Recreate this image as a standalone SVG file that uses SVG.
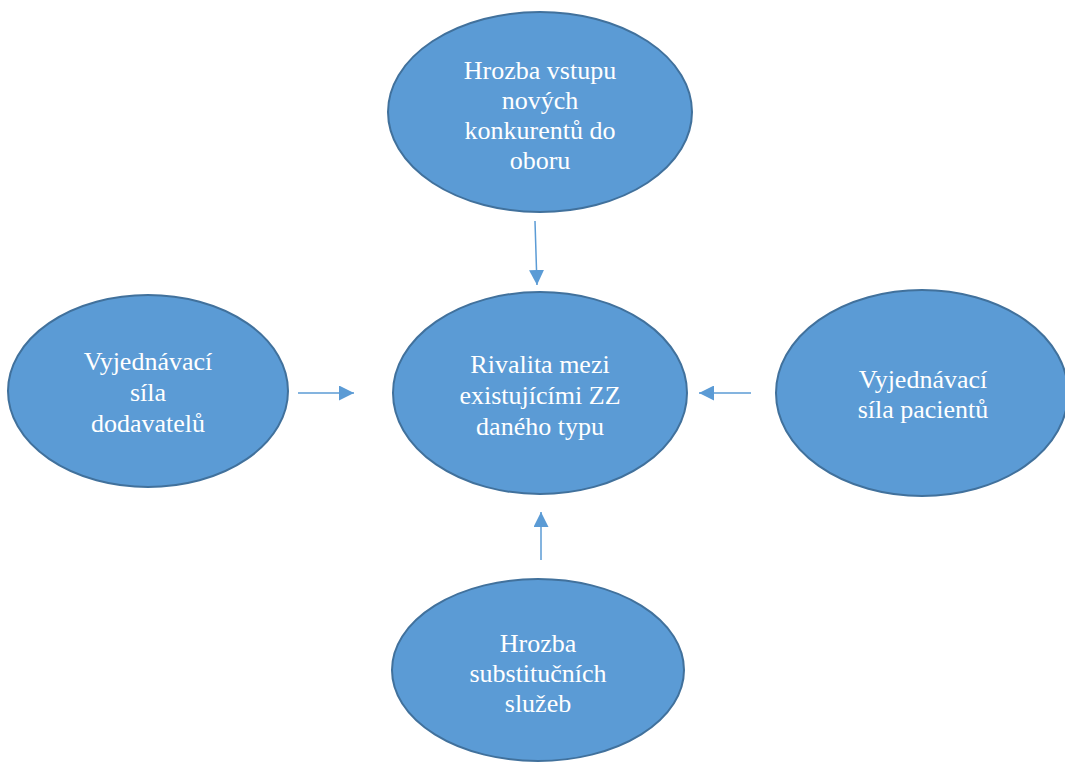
<svg xmlns="http://www.w3.org/2000/svg" width="1065" height="762" viewBox="0 0 1065 762">
  <defs>
    <marker id="arrow" viewBox="0 0 10 10" refX="10" refY="5" markerWidth="15" markerHeight="15" markerUnits="userSpaceOnUse" orient="auto">
      <path d="M0,0 L10,5 L0,10 z" fill="#5B9BD5"/>
    </marker>
    <style>
      .node { fill: #5B9BD5; stroke: #41719C; stroke-width: 2; }
      .label { font-family: "Liberation Serif", "Times New Roman", serif; font-size: 26px; fill: #FFFFFF; text-anchor: middle; }
      .conn { stroke: #5B9BD5; stroke-width: 1.5; fill: none; }
    </style>
  </defs>
  <rect width="1065" height="762" fill="#FFFFFF"/>

  <!-- arrows pointing at the central rivalry node -->
  <g id="connectors">
    <line class="conn" x1="535" y1="221" x2="537" y2="285" marker-end="url(#arrow)"/>
    <line class="conn" x1="298" y1="393" x2="354" y2="393" marker-end="url(#arrow)"/>
    <line class="conn" x1="751" y1="393" x2="699" y2="393" marker-end="url(#arrow)"/>
    <line class="conn" x1="541" y1="560" x2="541" y2="512" marker-end="url(#arrow)"/>
  </g>

  <g id="node-entry">
    <ellipse class="node" cx="540" cy="112" rx="152" ry="100"/>
    <text class="label" x="540" y="79">Hrozba vstupu</text>
    <text class="label" x="540" y="109">nových</text>
    <text class="label" x="540" y="139">konkurentů do</text>
    <text class="label" x="540" y="169">oboru</text>
  </g>

  <g id="node-rivalry">
    <ellipse class="node" cx="540" cy="393" rx="147" ry="101"/>
    <text class="label" x="540" y="373">Rivalita mezi</text>
    <text class="label" x="540" y="404">existujícími ZZ</text>
    <text class="label" x="540" y="435">daného typu</text>
  </g>

  <g id="node-suppliers">
    <ellipse class="node" cx="148" cy="391" rx="140" ry="96"/>
    <text class="label" x="148" y="370">Vyjednávací</text>
    <text class="label" x="148" y="401">síla</text>
    <text class="label" x="148" y="432">dodavatelů</text>
  </g>

  <g id="node-patients">
    <ellipse class="node" cx="922" cy="393" rx="146" ry="103"/>
    <text class="label" x="923" y="388">Vyjednávací</text>
    <text class="label" x="923" y="418">síla pacientů</text>
  </g>

  <g id="node-substitutes">
    <ellipse class="node" cx="538" cy="670" rx="146" ry="91"/>
    <text class="label" x="538" y="652">Hrozba</text>
    <text class="label" x="538" y="682">substitučních</text>
    <text class="label" x="538" y="712">služeb</text>
  </g>
</svg>
